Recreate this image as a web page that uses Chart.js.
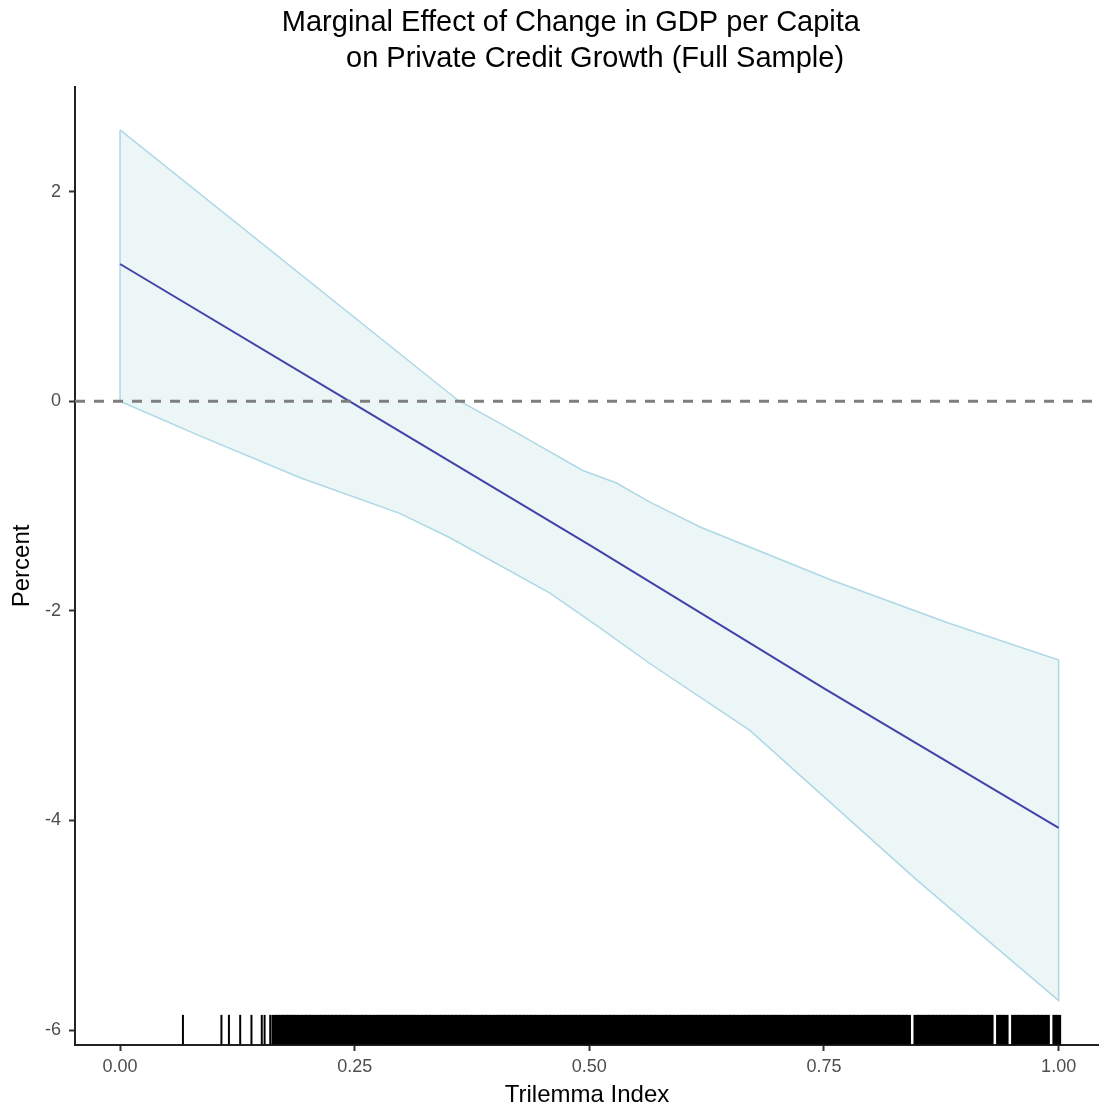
<!DOCTYPE html>
<html lang="en">
  <head>
    <meta charset="UTF-8" />
    <title>Marginal Effect of Change in GDP per Capita</title>
    <script src="https://cdn.jsdelivr.net/npm/chart.js"></script>
    <style>
      body {
        margin: 0;
        background: #fff;
      }
      #grafico {
        display: block;
      }
    </style>
  </head>
  <body>
    <canvas id="grafico" width="1099" height="1112"></canvas>

    <script>
      // estimated effect (straight line)
      const effectX = [0, 0.25, 0.5, 0.75, 1];
      const effectY = [1.31, -0.03, -1.37, -2.74, -4.07];

      // confidence band
      const upperX = [0, 0.36, 0.405, 0.44, 0.493, 0.529, 0.564, 0.618, 0.759, 0.884, 1];
      const upperY = [2.59, 0.01, -0.21, -0.39, -0.66, -0.78, -0.96, -1.2, -1.71, -2.12, -2.47];
      const lowerX = [0, 0.085, 0.192, 0.298, 0.351, 0.458, 0.511, 0.564, 0.671, 0.849, 1];
      const lowerY = [0.0, -0.33, -0.73, -1.07, -1.3, -1.83, -2.16, -2.5, -3.14, -4.57, -5.72];

      const zeroLine = 0;

      // rug of observed trilemma index values
      const rugSparse = [0.067, 0.108, 0.116, 0.128, 0.14, 0.151, 0.154, 0.16];
      const rugDense = [
        0.164, 0.168, 0.172, 0.176, 0.18, 0.184, 0.188, 0.192, 0.196, 0.2,
        0.204, 0.208, 0.212, 0.216, 0.22, 0.224, 0.228, 0.232, 0.236, 0.24,
        0.244, 0.248, 0.252, 0.256, 0.26, 0.264, 0.268, 0.272, 0.276, 0.28,
        0.284, 0.288, 0.292, 0.296, 0.3, 0.304, 0.308, 0.312, 0.316, 0.32,
        0.324, 0.328, 0.332, 0.336, 0.34, 0.344, 0.348, 0.352, 0.356, 0.36,
        0.364, 0.368, 0.372, 0.376, 0.38, 0.384, 0.388, 0.392, 0.396, 0.4,
        0.404, 0.408, 0.412, 0.416, 0.42, 0.424, 0.428, 0.432, 0.436, 0.44,
        0.444, 0.448, 0.452, 0.456, 0.46, 0.464, 0.468, 0.472, 0.476, 0.48,
        0.484, 0.488, 0.492, 0.496, 0.5, 0.504, 0.508, 0.512, 0.516, 0.52,
        0.524, 0.528, 0.532, 0.536, 0.54, 0.544, 0.548, 0.552, 0.556, 0.56,
        0.564, 0.568, 0.572, 0.576, 0.58, 0.584, 0.588, 0.592, 0.596, 0.6,
        0.604, 0.608, 0.612, 0.616, 0.62, 0.624, 0.628, 0.632, 0.636, 0.64,
        0.644, 0.648, 0.652, 0.656, 0.66, 0.664, 0.668, 0.672, 0.676, 0.68,
        0.684, 0.688, 0.692, 0.696, 0.7, 0.704, 0.708, 0.712, 0.716, 0.72,
        0.724, 0.728, 0.732, 0.736, 0.74, 0.744, 0.748, 0.752, 0.756, 0.76,
        0.764, 0.768, 0.772, 0.776, 0.78, 0.784, 0.788, 0.792, 0.796, 0.8,
        0.804, 0.808, 0.812, 0.816, 0.82, 0.824, 0.828, 0.832, 0.836, 0.84,
        0.848, 0.852, 0.856, 0.86, 0.864, 0.868, 0.872, 0.876, 0.88, 0.884,
        0.888, 0.892, 0.896, 0.9, 0.904, 0.908, 0.912, 0.916, 0.92, 0.924,
        0.928, 0.936, 0.94, 0.944, 0.952, 0.956, 0.96, 0.964, 0.968, 0.972,
        0.976, 0.98, 0.984, 0.988, 0.996, 1.0,
      ];

      const xTicks = [0, 0.25, 0.5, 0.75, 1];
      const xTickLabels = ["0.00", "0.25", "0.50", "0.75", "1.00"];
      const yTicks = [-6, -4, -2, 0, 2];
      const yTickLabels = ["-6", "-4", "-2", "0", "2"];

      const xMin = -0.048;
      const xMax = 1.043;
      const yMin = -6.143;
      const yMax = 3.0;

      // rug height: 3% of the panel, centred above the bottom
      const rugLevel = yMin + 0.016 * (yMax - yMin);

      function pontos(xs, ys) {
        return xs.map((x, i) => ({ x: x, y: ys[i] }));
      }

      function faixa() {
        const cima = pontos(upperX, upperY);
        const baixo = pontos(lowerX, lowerY).reverse();
        return cima.concat(baixo, [cima[0]]);
      }

      const fonte = "'Liberation Sans', Arial, Helvetica, sans-serif";

      const ctx = document.getElementById("grafico").getContext("2d");

      new Chart(ctx, {
        type: "line",
        data: {
          datasets: [
            {
              data: faixa(),
              backgroundColor: "#edf6f6",
              borderColor: "#add8e6",
              borderWidth: 1.5,
              fill: "shape",
              pointRadius: 0,
              tension: 0,
              order: 4,
            },
            {
              data: pontos(effectX, effectY),
              borderColor: "#4242aa",
              borderWidth: 2,
              pointRadius: 0,
              fill: false,
              order: 3,
            },
            {
              data: [
                { x: xMin, y: zeroLine },
                { x: xMax, y: zeroLine },
              ],
              borderColor: "#7f7f7f",
              borderWidth: 3,
              borderDash: [10, 9],
              pointRadius: 0,
              fill: false,
              order: 2,
            },
            {
              type: "scatter",
              data: rugDense.map((x) => ({ x: x, y: rugLevel })),
              pointStyle: "line",
              pointRotation: 90,
              pointRadius: 14.8,
              pointBorderWidth: 5,
              pointBorderColor: "#000",
              pointBackgroundColor: "#000",
              order: 1,
            },
            {
              type: "scatter",
              data: rugSparse.map((x) => ({ x: x, y: rugLevel })),
              pointStyle: "line",
              pointRotation: 90,
              pointRadius: 14.8,
              pointBorderWidth: 2,
              pointBorderColor: "#000",
              pointBackgroundColor: "#000",
              order: 1,
            },
          ],
        },
        options: {
          responsive: false,
          devicePixelRatio: 1,
          animation: false,
          layout: { padding: 0, autoPadding: false },
          scales: {
            x: {
              type: "linear",
              min: xMin,
              max: xMax,
              afterBuildTicks: (scale) => {
                scale.ticks = xTicks.map((v) => ({ value: v }));
              },
              afterFit: (scale) => {
                scale.height = 67;
                scale.paddingLeft = 0;
                scale.paddingRight = 0;
              },
              grid: {
                drawOnChartArea: false,
                drawTicks: true,
                tickLength: 6,
                tickColor: "#333",
                tickWidth: 2,
              },
              border: { display: true, color: "#222", width: 2 },
              ticks: {
                autoSkip: false,
                maxRotation: 0,
                padding: 5,
                color: "#4d4d4d",
                font: { family: fonte, size: 18 },
                callback: (v, i) => xTickLabels[i],
              },
              title: {
                display: true,
                text: "Trilemma Index",
                color: "#000",
                font: { family: fonte, size: 24 },
                padding: { top: 3, bottom: 2 },
              },
            },
            y: {
              type: "linear",
              min: yMin,
              max: yMax,
              afterBuildTicks: (scale) => {
                scale.ticks = yTicks.map((v) => ({ value: v }));
              },
              afterFit: (scale) => {
                scale.width = 75;
                scale.paddingTop = 0;
                scale.paddingBottom = 0;
              },
              grid: {
                drawOnChartArea: false,
                drawTicks: true,
                tickLength: 6,
                tickColor: "#333",
                tickWidth: 2,
              },
              border: { display: true, color: "#222", width: 2 },
              ticks: {
                autoSkip: false,
                padding: 8,
                color: "#4d4d4d",
                font: { family: fonte, size: 18 },
                callback: (v, i) => yTickLabels[i],
              },
              title: {
                display: true,
                text: "Percent",
                color: "#000",
                font: { family: fonte, size: 24 },
                padding: { top: 8, bottom: 0 },
              },
            },
          },
          plugins: {
            legend: { display: false },
            tooltip: { enabled: false },
            title: {
              display: true,
              fullSize: false,
              text: [
                "Marginal Effect of Change in GDP per Capita    ",
                "  on Private Credit Growth (Full Sample)",
              ],
              color: "#000",
              font: { family: fonte, size: 29, weight: "normal", lineHeight: 1.24 },
              padding: { top: 5, bottom: 10 },
            },
          },
        },
      });
    </script>
  </body>
</html>
